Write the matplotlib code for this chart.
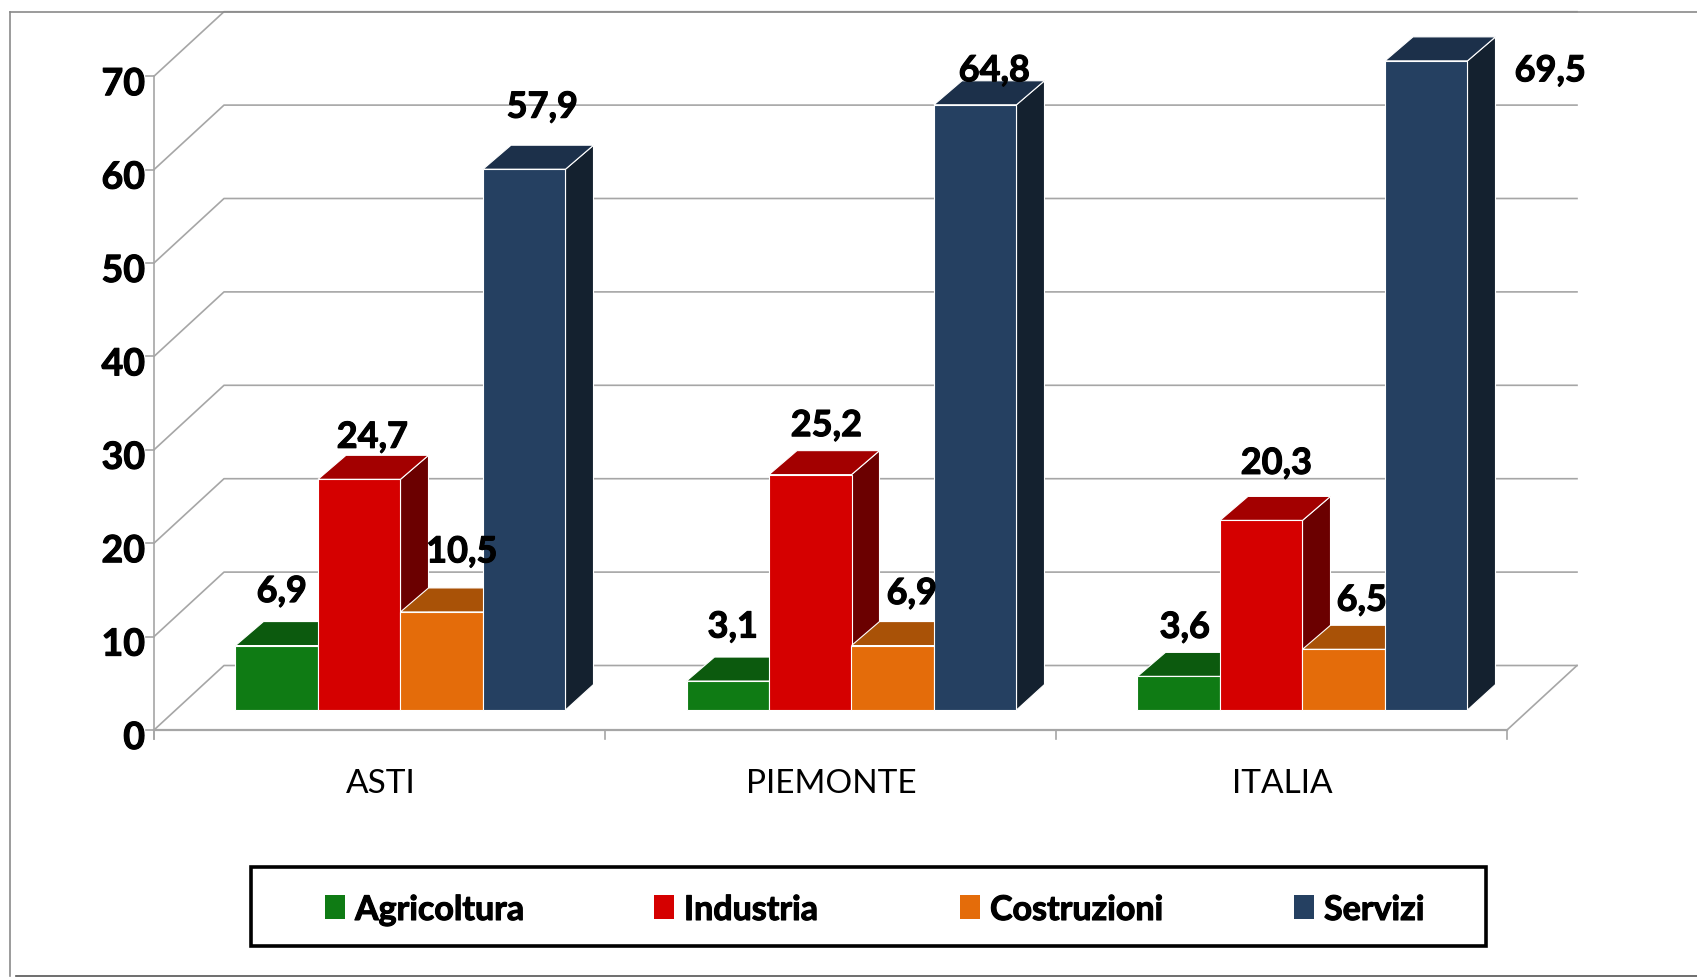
import matplotlib
matplotlib.use("Agg")
import matplotlib.pyplot as plt
from matplotlib.lines import Line2D
from matplotlib.patches import Polygon, Rectangle
from matplotlib.patheffects import withStroke

# dati
categorie = ['ASTI', 'PIEMONTE', 'ITALIA']
settori = ['Agricoltura', 'Industria', 'Costruzioni', 'Servizi']
agricoltura = [6.9, 3.1, 3.6]
industria = [24.7, 25.2, 20.3]
costruzioni = [10.5, 6.9, 6.5]
servizi = [57.9, 64.8, 69.5]
valori = [agricoltura, industria, costruzioni, servizi]
tick_y = [0, 10, 20, 30, 40, 50, 60, 70]

# colori: fronte, sopra, lato
col_fronte = ['#0F7B14', '#D50000', '#E46C0A', '#254061']
col_sopra = ['#0C5A0E', '#A30000', '#A95207', '#1C304A']
col_lato = ['#094209', '#6B0000', '#7A3B05', '#14212F']
col_griglia = '#A6A6A6'

# spostamento etichette (px) rispetto al bordo alto del tetto della barra
nudge = [
    [(-9, 30), (-1, 18), (6, 36), (4, 38)],
    [(-9, 30), (2, 25), (5, 28), (5, 10)],
    [(-8, 25), (1, 33), (4, 25), (110, -34)],
]
legenda_x = [325, 654, 960, 1294]  # px, quadratini della legenda

FONT = 'Lato'
W, H = 1697, 978
PX_X = 451.0   # px per categoria
PX_Y = 9.34    # px per unita
X0, Y0 = 379.5, 731.0  # centro di ASTI, zero del grafico
GRASSETTO = [withStroke(linewidth=0.8, foreground='black')]


def fx(px):
    return (px - X0) / PX_X


def fy(py):
    return (Y0 - py) / PX_Y


fig = plt.figure(figsize=(W / 100, H / 100), dpi=100)
ax = fig.add_axes([0, 0, 1, 1])
ax.set_xlim(fx(0), fx(W))
ax.set_ylim(fy(H), fy(0))
ax.axis('off')

# prospettiva della parete e delle barre
wall_dx, wall_dy = 70 / PX_X, 64.5 / PX_Y
bar_dx, bar_dy = 28 / PX_X, 24 / PX_Y
bar_dy_base = 25.5 / PX_Y
base_y = 20 / PX_Y
shift_x = 21 / PX_X
bar_w = 82.5 / PX_X
left, right = -0.5, 2.5

# griglia e assi
for t in tick_y:
    ax.add_line(Line2D([left, left + wall_dx, right + wall_dx], [t, t + wall_dy, t + wall_dy],
                       color=col_griglia, lw=1.2, zorder=1))
    ax.add_line(Line2D([left - 8 / PX_X, left], [t, t], color=col_griglia, lw=1.2, zorder=1))
    ax.text(left - 9 / PX_X, t - 8 / PX_Y, str(t), ha='right', va='center', family=FONT,
            fontweight='bold', fontsize=27, color='black', path_effects=GRASSETTO)
ax.add_line(Line2D([left, left], [-9 / PX_Y, tick_y[-1]], color=col_griglia, lw=1.2, zorder=1))
ax.add_line(Line2D([left, right], [0, 0], color=col_griglia, lw=1.6, zorder=1))
ax.add_line(Line2D([right, right + wall_dx], [0, wall_dy], color=col_griglia, lw=1.2, zorder=1))
for k in range(len(categorie) + 1):
    ax.add_line(Line2D([left + k, left + k], [-9 / PX_Y, 0], color=col_griglia, lw=1.2, zorder=1))

# barre 3D
for g, cat in enumerate(categorie):
    ax.text(g + 1 / PX_X, fy(784), cat, ha='center', va='center', family=FONT,
            fontsize=24, color='black')
    for s in range(len(settori)):
        v = valori[s][g]
        x0 = g + shift_x + (s - 2) * bar_w
        x1 = x0 + bar_w
        y0 = base_y
        y1 = base_y + v
        z = 2 + s
        ax.add_patch(Polygon([(x1, y0), (x1 + bar_dx, y0 + bar_dy_base), (x1 + bar_dx, y1 + bar_dy), (x1, y1)],
                             facecolor=col_lato[s], edgecolor='white', lw=0.8, zorder=z))
        ax.add_patch(Polygon([(x0, y1), (x0 + bar_dx, y1 + bar_dy), (x1 + bar_dx, y1 + bar_dy), (x1, y1)],
                             facecolor=col_sopra[s], edgecolor='white', lw=0.8, zorder=z))
        ax.bar(x0, v, width=bar_w, bottom=y0, align='edge', color=col_fronte[s],
               edgecolor='white', linewidth=0.8, zorder=z)
        dx, dy = nudge[g][s]
        ax.annotate(f'{v:.1f}'.replace('.', ','), (x0 + bar_w / 2 + bar_dx / 2, y1 + bar_dy),
                    xytext=(dx * 0.72, dy * 0.72), textcoords='offset points',
                    ha='center', va='center', family=FONT, fontweight='bold',
                    fontsize=26, color='black', zorder=10, path_effects=GRASSETTO)

# legenda
ax.add_patch(Rectangle((fx(251), fy(947)), fx(1486) - fx(251), fy(868) - fy(947),
                       facecolor='white', edgecolor='black', lw=2.6, zorder=6))
for s, nome in enumerate(settori):
    ax.add_patch(Rectangle((fx(legenda_x[s]), fy(920)), 20 / PX_X, 24 / PX_Y,
                           facecolor=col_fronte[s], edgecolor='none', zorder=7))
    ax.text(fx(legenda_x[s] + 30), fy(911), nome, ha='left', va='center', family=FONT,
            fontweight='bold', fontsize=24.5, color='black', zorder=7, path_effects=GRASSETTO)

# cornice esterna
cornice = [([10, 10], [13, 977], '#8A8A8A'), ([10, W], [13, 13], '#8A8A8A'), ([16, W], [977, 977], '#555555')]
for xs, ys, c in cornice:
    fig.add_artist(Line2D([p / W for p in xs], [1 - p / H for p in ys], color=c, lw=1.2))

fig.savefig('out.png', dpi=100)
